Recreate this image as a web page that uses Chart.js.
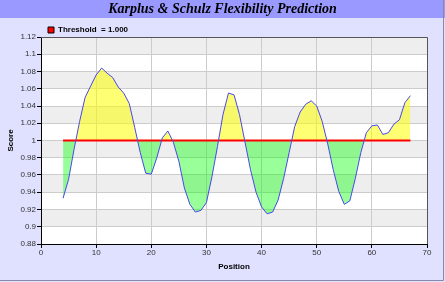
<!DOCTYPE html>
<html>
<head>
<meta charset="utf-8">
<script src="https://cdn.jsdelivr.net/npm/chart.js@4"></script>
<style>
  body { margin: 0; background: #e0e0ff; }
  canvas { display: block; }
</style>
</head>
<body>
<canvas id="myChart" width="445" height="282"></canvas>
<script>
// Karplus & Schulz flexibility
const positions = [4, 5, 6, 7, 8, 9, 10, 11, 12, 13, 14, 15, 16, 17, 18, 19, 20, 21, 22, 23, 24, 25,
    26, 27, 28, 29, 30, 31, 32, 33, 34, 35, 36, 37, 38, 39, 40, 41, 42, 43, 44, 45, 46, 47,
    48, 49, 50, 51, 52, 53, 54, 55, 56, 57, 58, 59, 60, 61, 62, 63, 64, 65, 66, 67];
const scores = [0.933, 0.955, 0.990, 1.022, 1.050, 1.063, 1.076, 1.084, 1.078, 1.073, 1.062, 1.055,
    1.043, 1.015, 0.986, 0.962, 0.961, 0.980, 1.003, 1.011, 0.998, 0.976, 0.945, 0.926,
    0.917, 0.919, 0.928, 0.958, 0.993, 1.030, 1.055, 1.053, 1.030, 0.998, 0.966, 0.940,
    0.923, 0.915, 0.917, 0.931, 0.956, 0.986, 1.016, 1.033, 1.042, 1.046, 1.040, 1.022,
    0.996, 0.966, 0.941, 0.926, 0.930, 0.956, 0.986, 1.009, 1.017, 1.018, 1.007, 1.009,
    1.019, 1.024, 1.044, 1.052];
const threshold = 1.0;
const thresholdLabel = 'Threshold  = 1.000';
const xTicks = [0, 70, 10];          // min, max, step
const yTicks = [0.88, 1.12, 0.02];   // min, max, step

const mainData = positions.map((p, i) => ({ x: p, y: scores[i] }));
const thresholdData = [
    { x: positions[0], y: threshold },
    { x: positions[positions.length - 1], y: threshold }
];

const sansFont = 'Liberation Sans, Arial, sans-serif';

// background, title bar, bands and frame
const backdrop = {
    id: 'backdrop',
    beforeInit(chart) {
        const fitLegend = chart.legend.fit;
        chart.legend.fit = function () {
            fitLegend.bind(chart.legend)();
            this.height = 18;
        };
    },
    beforeDraw(chart) {
        const { ctx, chartArea: a, scales: { y } } = chart;
        ctx.save();
        ctx.fillStyle = '#e0e0ff';
        ctx.fillRect(0, 0, chart.width, chart.height);
        ctx.fillStyle = '#9999ff';
        ctx.fillRect(0, 0, chart.width, 18);
        ctx.strokeStyle = '#8888aa';
        ctx.lineWidth = 1;
        ctx.beginPath();
        ctx.moveTo(chart.width - 1.5, 0);
        ctx.lineTo(chart.width - 1.5, chart.height - 1.5);
        ctx.lineTo(0, chart.height - 1.5);
        ctx.stroke();
        // alternating bands
        const [lo, hi, step] = yTicks;
        const n = Math.round((hi - lo) / step);
        for (let i = 0; i < n; i++) {
            const top = y.getPixelForValue(hi - i * step);
            const bot = y.getPixelForValue(hi - (i + 1) * step);
            ctx.fillStyle = i % 2 === 0 ? '#eeeeee' : '#ffffff';
            ctx.fillRect(a.left, top, a.right - a.left, bot - top);
        }
        ctx.restore();
    },
    afterDraw(chart) {
        const { ctx, chartArea: a } = chart;
        ctx.save();
        ctx.strokeStyle = '#555555';
        ctx.lineWidth = 1;
        ctx.beginPath();
        ctx.moveTo(a.left, a.top + 0.5);
        ctx.lineTo(a.right + 0.5, a.top + 0.5);
        ctx.lineTo(a.right + 0.5, a.bottom);
        ctx.stroke();
        ctx.restore();
    }
};

new Chart(document.getElementById('myChart').getContext('2d'), {
    type: 'line',
    data: {
        datasets: [{
            label: 'Score',
            data: mainData,
            borderColor: '#4848ee',
            borderWidth: 1,
            pointRadius: 0,
            tension: 0,
            fill: {
                target: { value: threshold },
                above: 'rgba(255, 255, 0, 0.55)',
                below: 'rgba(0, 255, 0, 0.4)'
            }
        }, {
            label: thresholdLabel,
            data: thresholdData,
            borderColor: '#ff0000',
            backgroundColor: '#ff0000',
            borderWidth: 2,
            pointRadius: 0,
            fill: false
        }]
    },
    options: {
        responsive: false,
        animation: false,
        layout: { padding: 0 },
        plugins: {
            filler: { drawTime: 'beforeDatasetsDraw' },
            title: {
                display: true,
                text: 'Karplus & Schulz Flexibility Prediction',
                color: '#000000',
                font: { family: 'Liberation Serif, Times New Roman, serif', size: 14, weight: 'bold', style: 'italic', lineHeight: 1.3 },
                padding: { top: 0, bottom: 0.8 }
            },
            legend: {
                display: true,
                position: 'top',
                align: 'start',
                fullSize: false,
                labels: {
                    boxWidth: 6,
                    boxHeight: 6,
                    padding: 7,
                    color: '#000000',
                    font: { family: sansFont, size: 8, weight: 'bold' },
                    filter: item => item.datasetIndex === 1,
                    generateLabels: chart => chart.data.datasets.map((ds, i) => ({
                        text: ds.label,
                        fillStyle: '#ff0000',
                        strokeStyle: '#000000',
                        lineWidth: 1,
                        datasetIndex: i
                    }))
                }
            },
            tooltip: { enabled: false }
        },
        scales: {
            x: {
                type: 'linear',
                min: xTicks[0],
                max: xTicks[1],
                afterFit: s => { s.height = 38; },
                ticks: {
                    stepSize: xTicks[2],
                    padding: 0,
                    color: '#333333',
                    font: { family: sansFont, size: 8 }
                },
                grid: { color: '#cccccc', tickColor: '#000000', tickLength: 4 },
                border: { color: '#000000' },
                title: {
                    display: true,
                    text: 'Position',
                    color: '#000000',
                    font: { family: sansFont, size: 8, weight: 'bold' },
                    padding: { top: 0, bottom: 10 }
                }
            },
            y: {
                min: yTicks[0],
                max: yTicks[1],
                afterFit: s => { s.width = 41; },
                ticks: {
                    stepSize: yTicks[2],
                    padding: 1,
                    color: '#333333',
                    font: { family: sansFont, size: 8 },
                    callback: v => String(+v.toFixed(2))
                },
                grid: { color: '#cccccc', tickColor: '#000000', tickLength: 4 },
                border: { color: '#000000' },
                title: {
                    display: true,
                    text: 'Score',
                    color: '#000000',
                    font: { family: sansFont, size: 8, weight: 'bold' },
                    padding: { top: 6, bottom: 0 }
                }
            },
            y2: {
                position: 'right',
                display: true,
                afterFit: s => { s.width = 18; },
                ticks: { display: false },
                grid: { display: false },
                border: { display: false }
            }
        }
    },
    plugins: [backdrop]
});
</script>
</body>
</html>
